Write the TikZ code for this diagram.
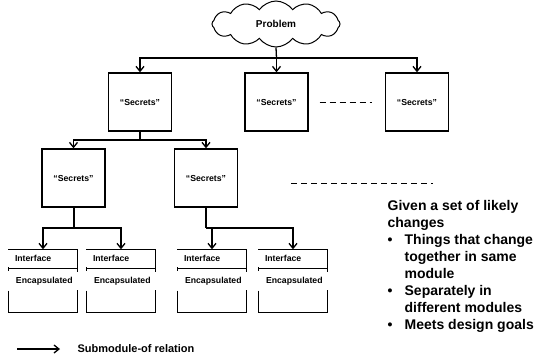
\documentclass[tikz,border=0pt]{standalone}
\usepackage{fontspec}
\setmainfont{Liberation Sans}
\usetikzlibrary{calc,shapes.symbols,arrows.meta}

\begin{document}
\begin{tikzpicture}[x=1pt,y=-1pt,line width=1.3pt]
   \tikzset{module/.style={draw,minimum width=63pt,minimum height=58pt,inner sep=0pt,font=\bfseries\fontsize{8.7}{10}\selectfont},
   leaf/.style={minimum width=68pt,minimum height=62pt,inner sep=0pt},
   part/.style={anchor=west,inner sep=0pt,font=\bfseries\fontsize{8.7}{10}\selectfont},
   sub/.style={-{Straight Barb[length=5pt,width=8pt]}},
   gap/.style={line width=1pt,dash pattern=on 6pt off 4pt}};
   \useasboundingbox (0,0) rectangle (538,357);
   \node[cloud,draw,line width=1pt,cloud puffs=12,cloud puff arc=110,cloud ignores aspect,minimum width=128pt,minimum height=46pt,inner sep=0pt,font=\bfseries\fontsize{10}{12}\selectfont] (0) at (276,24) {Problem};
\node[module] (1) at (140,102) {“Secrets”};
\node[module] (2) at (276.5,102) {“Secrets”};
\node[module] (3) at (417,102) {“Secrets”};
\node[module] (4) at (73.5,178) {“Secrets”};
\node[module] (5) at (206,178) {“Secrets”};
\node[leaf] (6) at (43,281) {};
\node[leaf] (7) at (121,281) {};
\node[leaf] (8) at (212,281) {};
\node[leaf] (9) at (293,281) {};
\coordinate (j0) at (276.5,58);
\coordinate (j1) at (140,140);
\coordinate (j4) at (74,228);
\coordinate (j5) at (206,228);

\draw (0.south) -- (j0);
\draw[sub] (j0) -| (1);
\draw[sub] (j0) -- (2);
\draw[sub] (j0) -| (3);
\draw (1) -- (j1);
\draw[sub] (j1) -| (4);
\draw[sub] (j1) -| (5);
\draw (4.south -| j4) -- (j4);
\draw[sub] (j4) -| (6);
\draw[sub] (j4) -| (7);
\draw (5) -- (j5);
\draw[sub] (j5) -| (8);
\draw[sub] (j5) -| (9);

\foreach \n in {6,...,9} {
  \draw (\n.north west) -- (\n.north east) -- ++(0,23);
  \draw ($(\n.north west)+(0,18)$) -- ++(0,4);
  \draw ($(\n.north west)+(0,19)$) -- ($(\n.north east)+(0,19)$);
  \draw ($(\n.south west)+(0,-22)$) -- (\n.south west) -- (\n.south east) -- ++(0,-23);
  \node[part] (\n i) at ($(\n.north west)+(6,9)$) {Interface};
  \node[part] (\n e) at ($(\n.north west)+(7,32)$) {Encapsulated};
}

\draw[gap] ([xshift=11pt]2.east) -- ([xshift=-13pt]3.west);
\coordinate (d0) at (291,183);
\coordinate (d1) at (433,183);
\draw[gap] (d0) -- (d1);

\node[anchor=north west,inner sep=0pt,align=left,font=\bfseries\fontsize{14}{17}\selectfont] (11) at (387,199.5) {Given a set of likely\\
changes\\
\makebox[17pt][l]{\textbullet}Things that change\\
\hspace*{17pt}together in same\\
\hspace*{17pt}module\\
\makebox[17pt][l]{\textbullet}Separately in\\
\hspace*{17pt}different modules\\
\makebox[17pt][l]{\textbullet}Meets design goals};

\coordinate (k) at (17,349);
\node[anchor=west,inner sep=0pt,font=\bfseries\fontsize{11}{13}\selectfont] (10) at (77,349) {Submodule-of relation};
\draw[sub] (k) -- ([xshift=-17pt]10.west);
   
\end{tikzpicture}
\end{document}
